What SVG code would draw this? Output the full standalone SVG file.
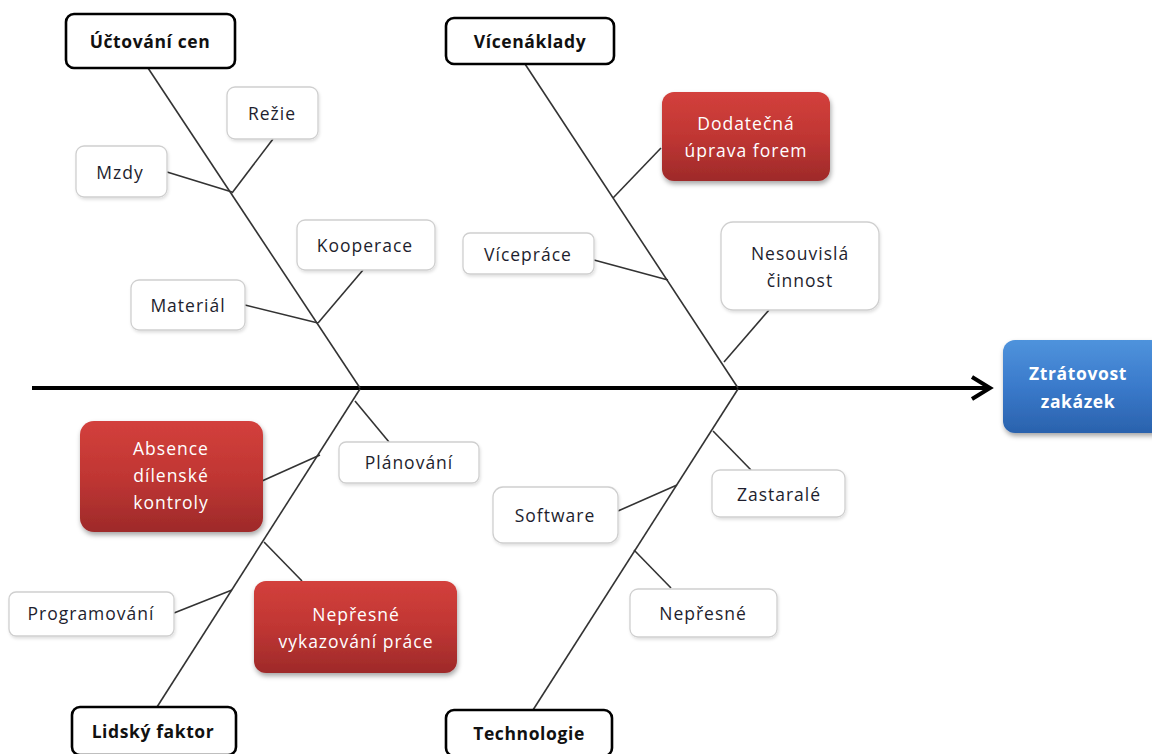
<svg xmlns="http://www.w3.org/2000/svg" width="1152" height="754" viewBox="0 0 1152 754">
<style>
.t{font-family:"Open Sans","Noto Sans",sans-serif;font-size:17.5px;letter-spacing:1px;fill:#1e1e2e;text-anchor:middle}
.h{font-family:"Open Sans","Noto Sans",sans-serif;font-size:17.5px;letter-spacing:0.6px;font-weight:bold;fill:#111;text-anchor:middle}
.w{font-family:"Open Sans","Noto Sans",sans-serif;font-size:17.5px;letter-spacing:1px;fill:#fff;text-anchor:middle}
.wb{font-family:"Open Sans","Noto Sans",sans-serif;font-size:17.5px;letter-spacing:0.6px;font-weight:bold;fill:#fff;text-anchor:middle}
.head{fill:#fff;stroke:#000;stroke-width:2.6}
.sub{fill:#fff;stroke:#cfcfcf;stroke-width:1.3;filter:url(#sh)}
.red{fill:url(#gr);filter:url(#sh2)}
.blue{fill:url(#gb);filter:url(#sh2)}
.bone{stroke:#333;stroke-width:1.6;fill:none}
</style>
<defs>
<linearGradient id="gr" x1="0" y1="0" x2="0" y2="1"><stop offset="0" stop-color="#d3403c"/><stop offset="0.5" stop-color="#c03633"/><stop offset="1" stop-color="#9e2a2a"/></linearGradient>
<linearGradient id="gb" x1="0" y1="0" x2="0" y2="1"><stop offset="0" stop-color="#4f93dc"/><stop offset="0.5" stop-color="#3a7acb"/><stop offset="1" stop-color="#2a62ad"/></linearGradient>
<filter id="sh" x="-10%" y="-10%" width="130%" height="140%"><feDropShadow dx="1" dy="2" stdDeviation="1.5" flood-color="#000" flood-opacity="0.12"/></filter>
<filter id="sh2" x="-10%" y="-10%" width="130%" height="140%"><feDropShadow dx="1" dy="3" stdDeviation="2.5" flood-color="#000" flood-opacity="0.35"/></filter>
</defs>
<rect width="1152" height="754" fill="#fff"/>
<g id="connectors">
<line x1="32" y1="388" x2="989" y2="388" stroke="#000" stroke-width="4"/>
<polyline points="972,377 990,388 972,399" fill="none" stroke="#000" stroke-width="4" stroke-linejoin="miter"/>
<line class="bone" x1="148" y1="68" x2="360" y2="388"/>
<line class="bone" x1="525" y1="64" x2="738" y2="388"/>
<line class="bone" x1="360" y1="389" x2="157" y2="707"/>
<line class="bone" x1="738" y1="389" x2="533" y2="710"/>
<line class="bone" x1="273" y1="139" x2="232" y2="193"/>
<line class="bone" x1="167" y1="172" x2="232" y2="192"/>
<line class="bone" x1="363" y1="270" x2="318" y2="323"/>
<line class="bone" x1="245" y1="305" x2="318" y2="323"/>
<line class="bone" x1="661" y1="148" x2="613" y2="198"/>
<line class="bone" x1="594" y1="260" x2="668" y2="280"/>
<line class="bone" x1="769" y1="310" x2="724" y2="362"/>
<line class="bone" x1="262" y1="481" x2="320" y2="455"/>
<line class="bone" x1="355" y1="401" x2="389" y2="442"/>
<line class="bone" x1="264" y1="542" x2="302" y2="581"/>
<line class="bone" x1="174" y1="613" x2="232" y2="590"/>
<line class="bone" x1="713" y1="431" x2="751" y2="470"/>
<line class="bone" x1="618" y1="511" x2="677" y2="485"/>
<line class="bone" x1="634" y1="550" x2="671" y2="588"/>
</g>
<g id="n-uctovani"><rect class="head" x="66" y="14" width="169" height="54" rx="8"/><text class="h" x="150" y="48">Účtování cen</text></g>
<g id="n-vicenaklady"><rect class="head" x="446" y="18" width="168" height="46" rx="8"/><text class="h" x="530" y="48">Vícenáklady</text></g>
<g id="n-lidsky"><rect class="head" x="72" y="707" width="164" height="48" rx="8"/><text class="h" x="153" y="738">Lidský faktor</text></g>
<g id="n-technologie"><rect class="head" x="446" y="710" width="166" height="46" rx="8"/><text class="h" x="529" y="740">Technologie</text></g>
<g id="n-rezie"><rect class="sub" x="227" y="87" width="91" height="52" rx="8"/><text class="t" x="272" y="120">Režie</text></g>
<g id="n-mzdy"><rect class="sub" x="76" y="146" width="91" height="51" rx="8"/><text class="t" x="120" y="179">Mzdy</text></g>
<g id="n-kooperace"><rect class="sub" x="297" y="220" width="138" height="50" rx="8"/><text class="t" x="365" y="252">Kooperace</text></g>
<g id="n-material"><rect class="sub" x="131" y="280" width="114" height="50" rx="8"/><text class="t" x="188" y="312">Materiál</text></g>
<g id="n-dodatecna"><rect class="red" x="662" y="92" width="168" height="89" rx="12"/><text class="w" x="746" y="130">Dodatečná</text><text class="w" x="746" y="157">úprava forem</text></g>
<g id="n-viceprace"><rect class="sub" x="463" y="233" width="131" height="41" rx="7"/><text class="t" x="528" y="261">Vícepráce</text></g>
<g id="n-nesouvisla"><rect class="sub" x="721" y="222" width="158" height="88" rx="12"/><text class="t" x="800" y="260">Nesouvislá</text><text class="t" x="800" y="287">činnost</text></g>
<g id="n-ztratovost"><rect class="blue" x="1003" y="340" width="160" height="93" rx="12"/><text class="wb" x="1078" y="380">Ztrátovost</text><text class="wb" x="1078" y="408">zakázek</text></g>
<g id="n-absence"><rect class="red" x="80" y="421" width="183" height="111" rx="14"/><text class="w" x="171" y="455">Absence</text><text class="w" x="171" y="482">dílenské</text><text class="w" x="171" y="509">kontroly</text></g>
<g id="n-planovani"><rect class="sub" x="339" y="442" width="140" height="41" rx="7"/><text class="t" x="409" y="469">Plánování</text></g>
<g id="n-nepresne-vyk"><rect class="red" x="254" y="581" width="203" height="92" rx="12"/><text class="w" x="356" y="621">Nepřesné</text><text class="w" x="356" y="648">vykazování práce</text></g>
<g id="n-programovani"><rect class="sub" x="9" y="592" width="165" height="44" rx="7"/><text class="t" x="91" y="620">Programování</text></g>
<g id="n-zastarale"><rect class="sub" x="712" y="470" width="133" height="47" rx="8"/><text class="t" x="779" y="501">Zastaralé</text></g>
<g id="n-software"><rect class="sub" x="493" y="487" width="125" height="56" rx="10"/><text class="t" x="555" y="522">Software</text></g>
<g id="n-nepresne"><rect class="sub" x="630" y="589" width="147" height="48" rx="8"/><text class="t" x="703" y="620">Nepřesné</text></g>
</svg>
